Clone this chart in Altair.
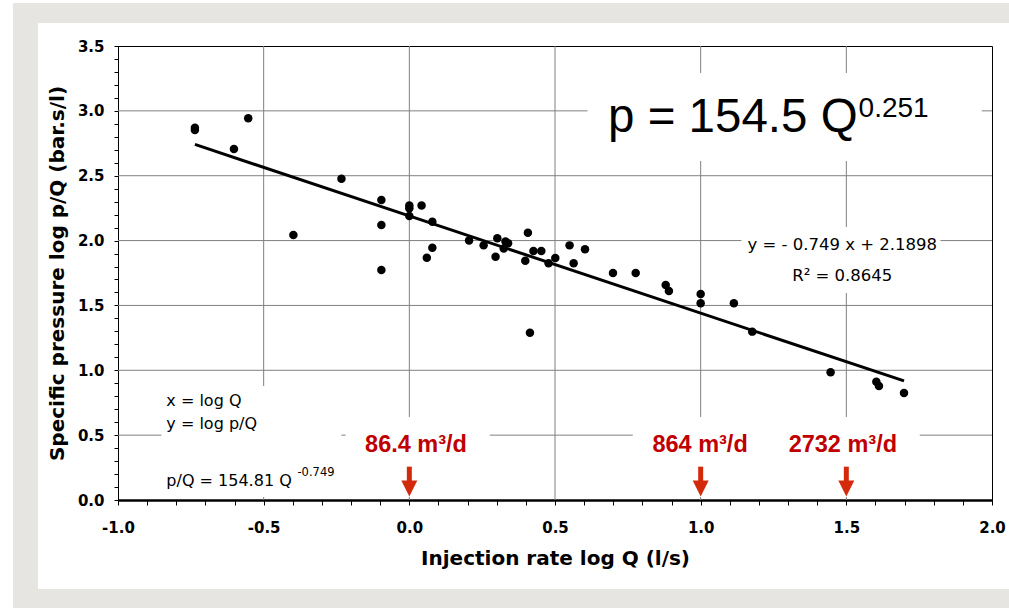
import math
import altair as alt
import pandas as pd

# Injection tests: log Q (l/s) against log p/Q (bar.s/l)
log_q = [-0.736, -0.736, -0.602, -0.553, -0.398, -0.233, -0.096, -0.096, -0.096,
         0.000, 0.000, 0.000, 0.042, 0.079, 0.079, 0.060, 0.205, 0.255, 0.296, 0.302,
         0.330, 0.339, 0.324, 0.407, 0.398, 0.426, 0.453, 0.414, 0.478, 0.501,
         0.550, 0.564, 0.603, 0.699, 0.777, 0.880, 0.891, 1.000, 1.000, 1.114,
         1.177, 1.446, 1.603, 1.612, 1.698]
log_pq = [2.870, 2.853, 2.706, 2.943, 2.043, 2.477, 2.313, 2.120, 1.773,
          2.270, 2.250, 2.190, 2.270, 2.146, 1.945, 1.868, 2.000, 1.963, 1.876, 2.017,
          1.992, 1.979, 1.938, 2.061, 1.845, 1.920, 1.920, 1.290, 1.825, 1.866,
          1.963, 1.825, 1.933, 1.750, 1.750, 1.658, 1.611, 1.588, 1.516, 1.516,
          1.298, 0.985, 0.912, 0.879, 0.825]

# Least-squares fit in log space: y = slope * x + intercept
slope = -0.749
intercept = 2.1898
r_squared = 0.8645

# Reference injection rates (m3/d); 86.4 m3/d = 1 l/s
rates_m3d = [86.4, 864, 2732]
rate_labels = ["86.4 m³/d", "864 m³/d", "2732 m³/d"]

x_ticks = [round(i * 0.1, 1) for i in range(-10, 21)]
y_ticks = [round(i * 0.1, 1) for i in range(0, 36)]
x_grid = [-0.5, 0.0, 0.5, 1.0, 1.5]
y_grid = [0.5, 1.0, 1.5, 2.0, 2.5, 3.0]

W, H = 874, 454
xs = alt.Scale(domain=[-1, 2], nice=False, zero=False)
ys = alt.Scale(domain=[0, 3.5], nice=False, zero=False)

GRID = "#808080"
FRAME = "#e6e5e1"
RED_TXT = "#c00000"
RED_ARROW = "#d42a0c"

label_expr = ("abs(datum.value * 2 - round(datum.value * 2)) < 0.000001 ? "
              "replace(format(datum.value, '.1f'), '\u2212', '-') : ''")

axis_common = dict(
    grid=False, domainColor="black", tickColor="black", tickWidth=1,
    labelFont="DejaVu Sans", labelFontWeight="bold", labelFontSize=15,
    labelColor="black", titleFont="DejaVu Sans", titleFontWeight="bold",
    titleFontSize=20, titleColor="black", labelFlush=False, labelOverlap=False,
    labelExpr=label_expr,
)
x_axis = alt.Axis(title="Injection rate log Q (l/s)", values=x_ticks,
                  domainWidth=2.5, tickSize=5, labelPadding=15, titlePadding=13,
                  **axis_common)
y_axis = alt.Axis(title="Specific pressure log p/Q (bar.s/l)", values=y_ticks,
                  domainWidth=1, tickSize=4, labelPadding=10, titlePadding=10,
                  **axis_common)


def X(field):
    return alt.X(field, type="quantitative", scale=xs, axis=x_axis)


def Y(field):
    return alt.Y(field, type="quantitative", scale=ys, axis=y_axis)


# grey page frame around the white panel (pixels relative to the plot origin)
frame_boxes = [(-105, 891, -43, -23), (-105, -80, -43, 562), (-105, 891, 543, 562)]
frame_layers = [
    alt.Chart(alt.Data(values=[{}])).mark_rect(color=FRAME).encode(
        x=alt.value(a), x2=alt.value(b), y=alt.value(c), y2=alt.value(d))
    for a, b, c, d in frame_boxes
]

vgrid = alt.Chart(pd.DataFrame({"gx": x_grid})).mark_rule(
    color=GRID, strokeWidth=1).encode(x=X("gx"))
hgrid = alt.Chart(pd.DataFrame({"gy": y_grid})).mark_rule(
    color=GRID, strokeWidth=1).encode(y=Y("gy"))

# white backgrounds behind the annotations
boxes = pd.DataFrame({
    "x0": [0.612, 1.140, -0.851, -0.219, 0.767],
    "x1": [1.965, 1.823, -0.233, 0.276, 1.752],
    "y0": [3.292, 2.105, 0.879, 0.640, 0.640],
    "y1": [2.614, 1.596, 0.023, 0.023, 0.023],
})
box_layer = alt.Chart(boxes).mark_rect(color="white").encode(
    x=X("x0"), x2="x1", y=Y("y0"), y2="y1")

x_lo, x_hi = min(log_q), max(log_q)
fit = pd.DataFrame({"fx": [x_lo, x_hi],
                    "fy": [slope * x_lo + intercept, slope * x_hi + intercept]})
fit_layer = alt.Chart(fit).mark_line(color="black", strokeWidth=3).encode(
    x=X("fx"), y=Y("fy"))

pts = pd.DataFrame({"log_q": log_q, "log_pq": log_pq})
pts_layer = alt.Chart(pts).mark_circle(size=72, color="black", opacity=1).encode(
    x=X("log_q"), y=Y("log_pq"))


def text_layer(rows, size, font="DejaVu Sans", weight="normal", color="black",
               align="left"):
    df = pd.DataFrame(rows, columns=["tx", "ty", "label"])
    return alt.Chart(df).mark_text(
        align=align, baseline="alphabetic", font=font, fontSize=size,
        fontWeight=weight, color=color).encode(x=X("tx"), y=Y("ty"), text="label:N")


power_law = text_layer([(0.682, 2.835, "p = 154.5 Q")], 47.5, font="Liberation Sans")
power_exp = text_layer([(1.542, 2.955, "0.251")], 28, font="Liberation Sans")
fit_text = text_layer([
    (1.486, 1.927, f"y = - {abs(slope)} x + {intercept}"),
    (1.486, 1.691, f"R² = {r_squared}"),
], 16.5, align="center")
legend_text = text_layer([
    (-0.834, 0.725, "x = log Q"),
    (-0.834, 0.545, "y = log p/Q"),
    (-0.834, 0.108, "p/Q = 154.81 Q"),
], 16)
legend_exp = text_layer([(-0.384, 0.185, f"{slope}")], 11.5)

rate_x = [math.log10(r / 86.4) for r in rates_m3d]
rate_text = text_layer([
    (0.023, 0.370, rate_labels[0]),
    (0.998, 0.370, rate_labels[1]),
    (1.488, 0.370, rate_labels[2]),
], 23.5, font="Liberation Sans", weight="bold", color=RED_TXT, align="center")

arrows = pd.DataFrame({"ax": rate_x, "top": 0.257, "bot": 0.125, "head": 0.089})
shaft = alt.Chart(arrows).mark_rule(color=RED_ARROW, strokeWidth=5).encode(
    x=X("ax"), y=Y("top"), y2="bot")
head = alt.Chart(arrows).mark_point(
    shape="M-1,-1L1,-1L0,1Z", size=256, filled=True, opacity=1,
    color=RED_ARROW, strokeWidth=0).encode(x=X("ax"), y=Y("head"))

chart = alt.layer(
    *frame_layers, vgrid, hgrid, box_layer, fit_layer, pts_layer,
    power_law, power_exp, fit_text, legend_text, legend_exp,
    shaft, head, rate_text,
).properties(
    width=W, height=H,
    padding={"left": 118, "top": 46, "right": 17, "bottom": 109},
    autosize=alt.AutoSizeParams(type="none"),
    background="white",
).configure_view(stroke="black", strokeWidth=1)

chart.save("out.html", embed_options={"renderer": "svg", "actions": False})
